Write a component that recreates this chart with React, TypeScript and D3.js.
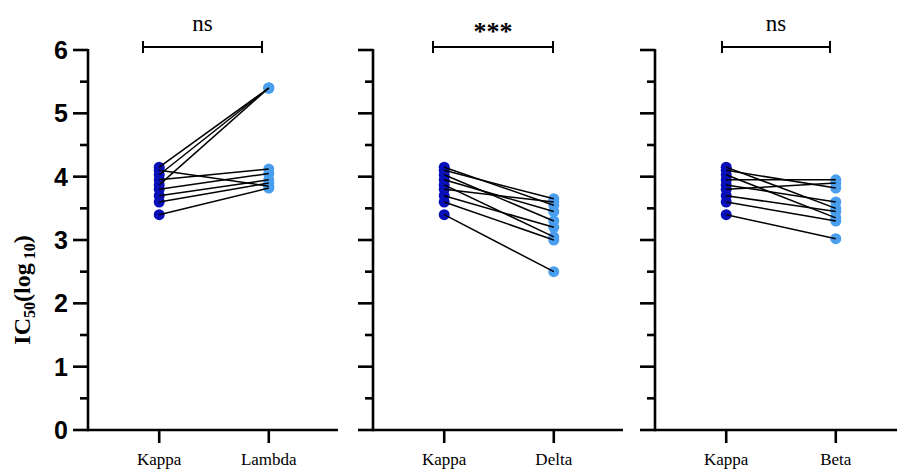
import React from "react";
import * as d3 from "d3";

const kappa = [4.15, 4.1, 4.03, 3.95, 3.87, 3.8, 3.7, 3.6, 3.4];
const lambda = [5.4, 3.85, 5.4, 4.12, 5.4, 4.05, 3.95, 3.9, 3.82];
const delta = [3.55, 3.65, 3.3, 3.45, 3.05, 3.6, 3.2, 3.0, 2.5];
const beta = [3.5, 3.82, 3.35, 3.95, 3.6, 3.9, 3.45, 3.3, 3.02];

const panels = [
  { cats: ["Kappa", "Lambda"], a: kappa, b: lambda, sig: "ns", axisX: 88, br: [143, 262] },
  { cats: ["Kappa", "Delta"], a: kappa, b: delta, sig: "***", axisX: 373, br: [433, 553] },
  { cats: ["Kappa", "Beta"], a: kappa, b: beta, sig: "ns", axisX: 655, br: [722, 830] },
];

const yMajor = [0, 1, 2, 3, 4, 5, 6];
const yMinor = [0.5, 1.5, 2.5, 3.5, 4.5, 5.5];

const W = 897, H = 469;
const PW = 252;
const y = d3.scaleLinear().domain([0, 6]).range([430, 50]);
const DARK = "#0a10b8";
const LIGHT = "#4a9eee";

export default function App() {
  return (
    <svg width={W} height={H} style={{ position: "absolute", left: 0, top: 0, background: "#fff" }}>
      {panels.map((p, pi) => {
        const x = d3.scalePoint<string>().domain(p.cats).range([p.axisX, p.axisX + PW]).padding(0.65);
        const x0 = x(p.cats[0])!;
        const x1 = x(p.cats[1])!;
        return (
          <g key={pi}>
            <line x1={p.axisX} x2={p.axisX} y1={y(6) - 1} y2={y(0) + 1.2} stroke="#000" strokeWidth={2.6} />
            {yMajor.map((t) => (
              <line key={"M" + t} x1={p.axisX - 15} x2={p.axisX} y1={y(t)} y2={y(t)} stroke="#000" strokeWidth={2.6} />
            ))}
            {yMinor.map((t) => (
              <line key={"m" + t} x1={p.axisX - 8} x2={p.axisX} y1={y(t)} y2={y(t)} stroke="#000" strokeWidth={2.6} />
            ))}
            {pi === 0 &&
              yMajor.map((t) => (
                <text key={"l" + t} x={68} y={y(t)} dy="0.36em" textAnchor="end"
                  fontFamily="Liberation Sans, Arial, sans-serif" fontWeight="bold" fontSize={25}>
                  {t}
                </text>
              ))}
            <line x1={p.axisX} x2={p.axisX + PW - 2} y1={y(0)} y2={y(0)} stroke="#000" strokeWidth={2.6} />
            {p.cats.map((c) => (
              <g key={c}>
                <line x1={x(c)} x2={x(c)} y1={y(0)} y2={y(0) + 13} stroke="#000" strokeWidth={2.6} />
                <text x={x(c)} y={465} textAnchor="middle" fontFamily="Liberation Serif, Times New Roman, serif" fontSize={17}>
                  {c}
                </text>
              </g>
            ))}
            {p.a.map((v, i) => (
              <circle key={"a" + i} cx={x0} cy={y(v)} r={5.5} fill={DARK} />
            ))}
            {p.b.map((v, i) => (
              <circle key={"b" + i} cx={x1} cy={y(v)} r={5.5} fill={LIGHT} />
            ))}
            {p.a.map((v, i) => (
              <line key={"p" + i} x1={x0} y1={y(v)} x2={x1} y2={y(p.b[i])} stroke="#000" strokeWidth={1.5} />
            ))}
            <g stroke="#000" strokeWidth={2}>
              <line x1={p.br[0]} x2={p.br[1]} y1={47} y2={47} />
              <line x1={p.br[0]} x2={p.br[0]} y1={41} y2={53} />
              <line x1={p.br[1]} x2={p.br[1]} y1={41} y2={53} />
            </g>
            <text x={(p.br[0] + p.br[1]) / 2} y={p.sig === "ns" ? 31 : 40} textAnchor="middle"
              fontFamily="Liberation Serif, Times New Roman, serif"
              fontWeight={p.sig === "ns" ? "normal" : "bold"} fontSize={p.sig === "ns" ? 23 : 26}>
              {p.sig}
            </text>
          </g>
        );
      })}
      <text transform="translate(30,290) rotate(-90)" textAnchor="middle"
        fontFamily="Liberation Serif, Times New Roman, serif" fontWeight="bold" fontSize={24}>
        IC<tspan fontSize={16} dy={5}>50</tspan>
        <tspan dy={-5}>(log</tspan>
        <tspan fontSize={16} dy={5}> 10</tspan>
        <tspan dy={-5}>)</tspan>
      </text>
    </svg>
  );
}
